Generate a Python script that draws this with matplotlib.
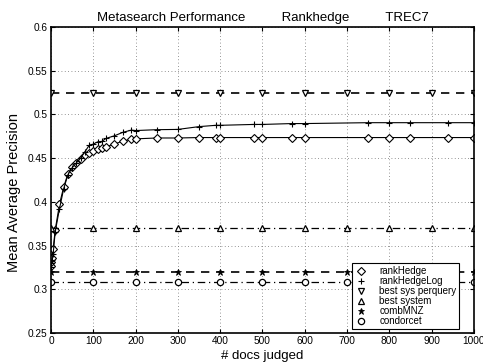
import matplotlib
matplotlib.use("Agg")
import matplotlib.pyplot as plt
from matplotlib.ticker import FuncFormatter, MultipleLocator

plt.rcParams['font.family'] = ['Liberation Sans', 'DejaVu Sans']

docs = [0, 1, 2, 5, 10, 20, 30, 40, 50, 60, 70, 80, 90, 100, 110, 120, 130, 150,
        170, 190, 200, 250, 300, 350, 390, 400, 480, 500, 570, 600, 750, 800, 850,
        940, 1000]
rank_hedge = [0.327, 0.331, 0.336, 0.346, 0.368, 0.397, 0.417, 0.432, 0.440, 0.4445,
              0.449, 0.453, 0.456, 0.458, 0.4605, 0.4615, 0.463, 0.466, 0.4695, 0.4715,
              0.472, 0.473, 0.473, 0.4735, 0.4735, 0.4735, 0.4735, 0.4735, 0.4735,
              0.4735, 0.4735, 0.4735, 0.4735, 0.4735, 0.4735]
rank_hedge_log = [0.325, 0.330, 0.334, 0.340, 0.366, 0.392, 0.415, 0.431, 0.439, 0.4445,
                  0.450, 0.457, 0.4645, 0.466, 0.4685, 0.469, 0.4725, 0.4755, 0.4795,
                  0.482, 0.4815, 0.4825, 0.4828, 0.486, 0.4875, 0.4875, 0.4885, 0.4885,
                  0.4895, 0.4895, 0.4905, 0.4905, 0.4905, 0.4905, 0.4905]

ref_x = [0, 100, 200, 300, 400, 500, 600, 700, 800, 900, 1000]
best_sys_perquery = 0.524
best_system = 0.370
comb_mnz = 0.320
condorcet = 0.308

fig = plt.figure(figsize=(4.83, 3.64), dpi=100)
ax = fig.add_axes([0.1056, 0.0852, 0.8754, 0.8408])

ms = 4.5
lw = 0.8
ax.plot(docs, rank_hedge, '-', color='k', lw=lw, marker='D', ms=3.8, mfc='white', mec='k', mew=0.8, label='rankHedge')
ax.plot(docs, rank_hedge_log, '-', color='k', lw=lw, marker='+', ms=5, mec='k', mew=0.8, label='rankHedgeLog')
ax.plot(ref_x, [best_sys_perquery]*len(ref_x), '--', color='k', lw=1.2, dashes=(5, 4), marker='v', ms=ms, mfc='white', mec='k', mew=0.9, label='best sys perquery')
ax.plot(ref_x, [best_system]*len(ref_x), '-.', color='k', lw=0.9, dashes=(6, 3, 1, 3), marker='^', ms=ms, mfc='white', mec='k', mew=0.9, label='best system')
ax.plot(ref_x, [comb_mnz]*len(ref_x), '--', color='k', lw=1.2, dashes=(5, 4), marker='*', ms=4.5, mfc='k', mec='k', mew=0.6, label='combMNZ')
ax.plot(ref_x, [condorcet]*len(ref_x), '-.', color='k', lw=0.9, dashes=(6, 3, 1, 3), marker='o', ms=ms, mfc='white', mec='k', mew=0.9, label='condorcet')

ax.set_xlim(0, 1000)
ax.set_ylim(0.25, 0.6)
ax.xaxis.set_major_locator(MultipleLocator(100))
ax.yaxis.set_major_locator(MultipleLocator(0.05))
ax.yaxis.set_major_formatter(FuncFormatter(lambda v, p: ('%g' % round(v, 3))))
ax.tick_params(direction='in', length=3, labelsize=7.3, top=True, right=True, width=0.8, pad=2.5)
for s in ax.spines.values():
    s.set_linewidth(1.2)
ax.grid(True, linestyle=(0, (1, 3)), color='0.45', lw=0.6)

ax.set_xlabel('# docs judged', fontsize=9.5, labelpad=2.5)
ax.set_ylabel('Mean Average Precision', fontsize=10.5)
ax.yaxis.set_label_coords(-0.072, 0.46)
ax.set_title('Metasearch Performance          Rankhedge          TREC7', fontsize=9.5, pad=4)

leg = ax.legend(loc='lower right', fontsize=7, frameon=True, fancybox=False,
                edgecolor='k', framealpha=1, handlelength=1.2, handletextpad=1.3,
                labelspacing=0.0, borderpad=0.3, borderaxespad=0.4,
                bbox_to_anchor=(0.975, 0.0))
leg.get_frame().set_linewidth(0.8)
for h in leg.get_lines():
    h.set_linestyle('none')

fig.savefig('out.png', dpi=100)
